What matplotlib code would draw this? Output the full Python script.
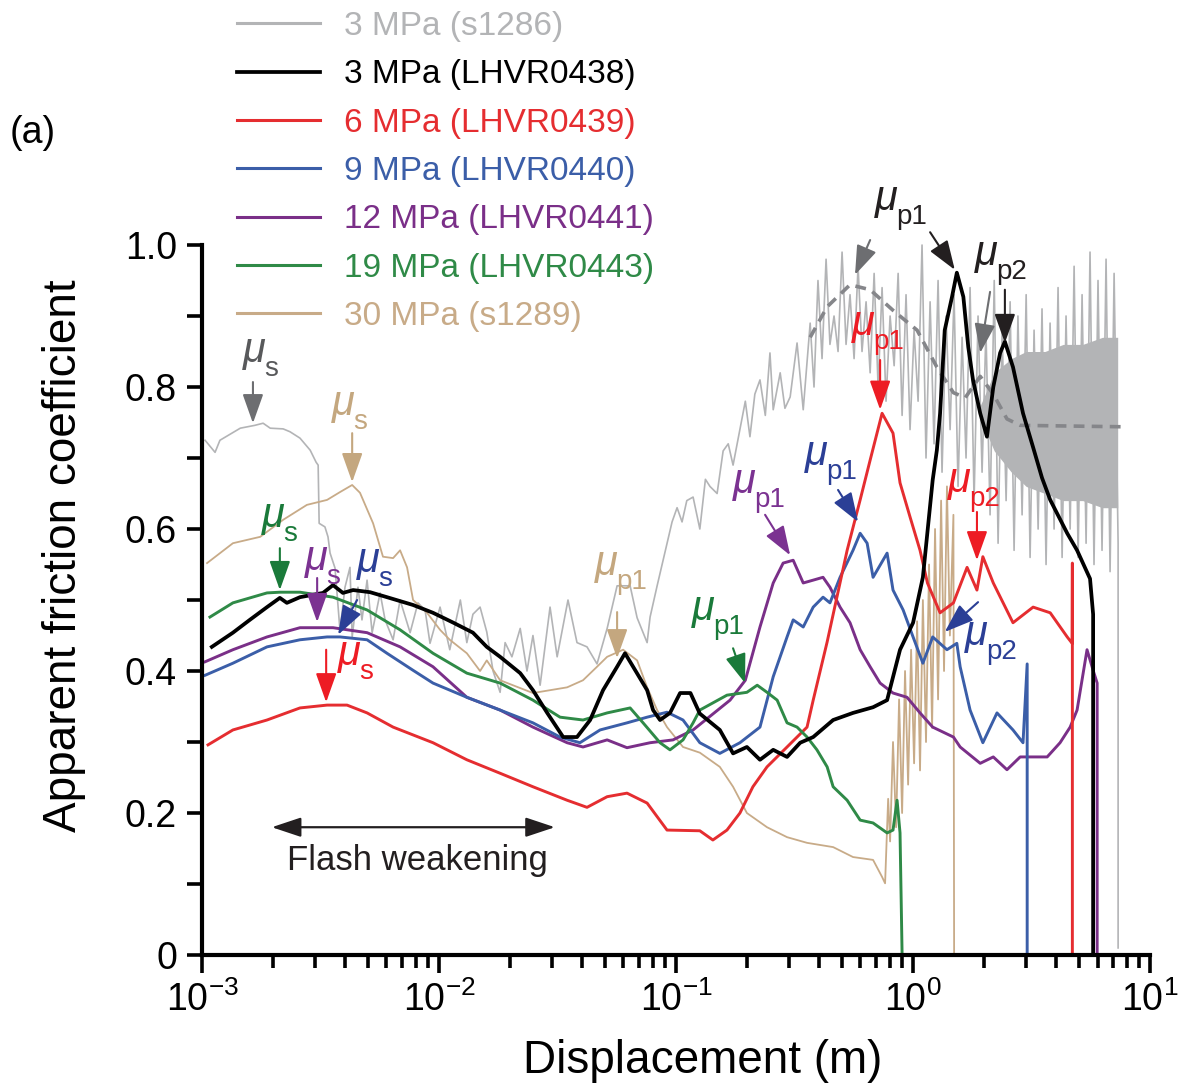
import matplotlib
matplotlib.use("Agg")
import matplotlib.pyplot as plt
from matplotlib.ticker import FixedLocator, FixedFormatter, NullFormatter

plt.rcParams["font.family"] = ["Liberation Sans", "DejaVu Sans"]
plt.rcParams["mathtext.fontset"] = "custom"
plt.rcParams["mathtext.rm"] = "Liberation Sans"
plt.rcParams["mathtext.it"] = "Liberation Sans:italic"

# ---- data: displacement (m), apparent friction ----
s1286_x = [1.03e-3, 1.135e-3, 1.19e-3, 1.45e-3, 1.67e-3, 1.81e-3, 1.94e-3, 2.20e-3,
           2.35e-3, 2.59e-3, 2.86e-3, 3.03e-3, 3.09e-3, 3.12e-3, 3.30e-3, 3.40e-3,
           3.47e-3, 3.64e-3, 3.82e-3, 4.01e-3, 4.21e-3, 4.30e-3, 4.55e-3, 4.73e-3,
           4.97e-3, 5.22e-3, 5.64e-3, 5.92e-3, 6.40e-3, 6.85e-3, 7.55e-3, 8.15e-3,
           8.73e-3, 9.16e-3, 0.0101, 0.0111, 0.0123, 0.0131, 0.0139, 0.0149, 0.0159,
           0.0169, 0.0181, 0.0190, 0.0203, 0.0220, 0.0235, 0.0249, 0.0267, 0.0294,
           0.0315, 0.0350, 0.0382, 0.0421, 0.0464, 0.0512, 0.0564, 0.0640, 0.0685,
           0.0755, 0.0777, 0.0832, 0.0873, 0.0916, 0.0962, 0.101, 0.106, 0.111,
           0.118, 0.126, 0.133, 0.139, 0.149, 0.158, 0.166, 0.174, 0.186, 0.196,
           0.205, 0.215, 0.226, 0.238, 0.249, 0.257, 0.275, 0.288, 0.303, 0.324,
           0.344,
           0.368, 0.382, 0.397, 0.413, 0.4295, 0.446, 0.464, 0.4825, 0.5017, 0.5215,
           0.542, 0.5638, 0.586, 0.609, 0.6335, 0.659, 0.685, 0.712, 0.740, 0.769,
           0.800, 0.832, 0.865, 0.899, 0.934, 0.971, 1.010, 1.05, 1.091, 1.134,
           1.18, 1.226, 1.275, 1.325, 1.378, 1.433, 1.489, 1.548, 1.61, 1.673,
           1.74, 1.809, 1.88, 1.955, 2.03, 2.113, 2.20, 2.284, 2.375, 2.469,
           2.567, 2.668, 2.77, 2.884, 3.00, 3.117, 3.24, 3.37, 3.50, 3.64,
           3.785, 3.935, 4.09, 4.254, 4.42, 4.60, 4.78, 4.97, 5.165, 5.37,
           5.58, 5.80, 6.03, 6.27, 6.52, 6.78, 7.05, 7.33, 7.33]
s1286_y = [0.725, 0.708, 0.725, 0.742, 0.746, 0.749, 0.742, 0.741,
           0.737, 0.728, 0.711, 0.694, 0.690, 0.608, 0.603, 0.589,
           0.566, 0.545, 0.457, 0.518, 0.546, 0.448, 0.518, 0.472,
           0.528, 0.454, 0.510, 0.472, 0.444, 0.500, 0.454, 0.496,
           0.486, 0.439, 0.49, 0.43, 0.50, 0.44, 0.48, 0.49, 0.455,
           0.40, 0.37, 0.44, 0.42, 0.46, 0.40, 0.45, 0.38, 0.49,
           0.42, 0.50, 0.44, 0.434, 0.41, 0.46, 0.52, 0.52, 0.475,
           0.44, 0.476, 0.52, 0.55, 0.58, 0.61, 0.63, 0.61, 0.64,
           0.645, 0.60, 0.67, 0.66, 0.65, 0.71, 0.72, 0.69, 0.74, 0.78,
           0.73, 0.79, 0.81, 0.76, 0.848, 0.768, 0.82, 0.77, 0.786, 0.862,
           0.768,
           0.89, 0.80, 0.95, 0.84, 0.98, 0.86, 0.90, 0.85, 0.99, 0.86,
           0.93, 0.84, 0.97, 0.85, 0.92, 0.82, 0.96, 0.80, 0.94, 0.78,
           0.90, 0.83, 0.96, 0.76, 0.93, 0.74, 0.88, 0.78, 1.00, 0.70,
           0.92, 0.72, 0.95, 0.68, 0.90, 0.74, 0.93, 0.66, 0.87, 0.70,
           0.94, 0.64, 0.90, 0.68, 0.88, 0.62, 0.95, 0.58, 0.88, 0.64,
           0.92, 0.57, 0.90, 0.62, 0.93, 0.56, 0.88, 0.60, 0.91, 0.55,
           0.89, 0.60, 0.94, 0.56, 0.90, 0.60, 0.97, 0.56, 0.93, 0.58,
           0.99, 0.55, 0.95, 0.57, 0.98, 0.54, 0.96, 0.58, 0.01]

# dense core of the s1286 noise band
s1286_core_x = [1.9, 2.2, 2.6, 3.0, 3.6, 4.3, 5.2, 6.3, 7.3]
s1286_core_lo = [0.76, 0.71, 0.68, 0.66, 0.65, 0.64, 0.64, 0.63, 0.63]
s1286_core_hi = [0.77, 0.82, 0.84, 0.85, 0.85, 0.86, 0.86, 0.87, 0.87]

# smoothed trend of s1286 (dashed)
trend_x = [0.368, 0.434, 0.542, 0.659, 0.823, 1.04, 1.26, 1.48, 1.66, 1.92,
           2.18, 2.49, 2.83, 7.62]
trend_y = [0.870, 0.913, 0.944, 0.937, 0.908, 0.880, 0.828, 0.792, 0.785, 0.815,
           0.790, 0.755, 0.746, 0.744]

r0438_x = [1.10e-3, 1.35e-3, 1.59e-3, 1.88e-3, 2.13e-3, 2.28e-3, 2.59e-3, 3.24e-3,
           3.57e-3, 3.93e-3, 4.34e-3, 5.12e-3, 6.03e-3, 7.77e-3, 9.43e-3, 0.0115,
           0.0139, 0.0159, 0.0181, 0.0220, 0.0249, 0.0286, 0.0334, 0.0382, 0.0434,
           0.0492, 0.0564, 0.0609, 0.0659, 0.0755, 0.0800, 0.0856, 0.0943, 0.104,
           0.115, 0.126, 0.153, 0.174, 0.199, 0.226, 0.257, 0.294, 0.334, 0.379,
           0.460, 0.558, 0.678, 0.777, 0.881, 1.00, 1.10, 1.21, 1.26, 1.30,
           1.36, 1.46, 1.53, 1.63, 1.71, 1.79, 1.92, 2.05, 2.18, 2.33, 2.44,
           2.64, 2.91, 3.21, 3.50, 3.79, 4.47, 4.92, 5.58, 5.75, 5.75]
r0438_y = [0.434, 0.454, 0.472, 0.490, 0.503, 0.496, 0.504, 0.510,
           0.521, 0.510, 0.514, 0.511, 0.504, 0.493, 0.482, 0.468,
           0.454, 0.434, 0.420, 0.397, 0.373, 0.341, 0.307, 0.307, 0.331,
           0.373, 0.406, 0.425, 0.406, 0.373, 0.345, 0.331, 0.341, 0.369,
           0.369, 0.340, 0.317, 0.284, 0.293, 0.275, 0.289, 0.279, 0.299, 0.307,
           0.331, 0.341, 0.349, 0.359, 0.430, 0.468, 0.532, 0.669, 0.711, 0.763,
           0.880, 0.927, 0.961, 0.927, 0.856, 0.810, 0.763, 0.730, 0.800, 0.848, 0.864,
           0.828, 0.763, 0.715, 0.672, 0.641, 0.594, 0.570, 0.530, 0.480, 0.0]

r0439_x = [1.06e-3, 1.35e-3, 1.88e-3, 2.59e-3, 3.37e-3, 4.09e-3, 4.97e-3, 6.40e-3,
           9.43e-3, 0.0131, 0.0181, 0.0249, 0.0347, 0.0421, 0.0512, 0.0621, 0.0755,
           0.0916, 0.126, 0.143, 0.164, 0.186, 0.211, 0.242, 0.294, 0.357, 0.379,
           0.434, 0.527, 0.598, 0.659, 0.740, 0.823, 0.881, 0.971, 1.07, 1.15,
           1.30, 1.48, 1.69, 1.86, 1.97, 2.18, 2.64, 3.21, 3.79, 4.47, 4.69,
           4.70, 4.70]
r0439_y = [0.296, 0.317, 0.331, 0.348, 0.352, 0.352, 0.341, 0.321,
           0.299, 0.275, 0.256, 0.237, 0.218, 0.208, 0.223, 0.228, 0.214,
           0.176, 0.175, 0.162, 0.176, 0.200, 0.237, 0.265, 0.293, 0.321, 0.359,
           0.441, 0.570, 0.641, 0.697, 0.763, 0.735, 0.665, 0.617, 0.570, 0.524,
           0.482, 0.496, 0.546, 0.514, 0.561, 0.524, 0.468, 0.490, 0.482, 0.448, 0.439,
           0.552, 0.0]

r0440_x = [1.03e-3, 1.35e-3, 1.88e-3, 2.59e-3, 3.37e-3, 3.82e-3, 4.97e-3, 6.03e-3,
           7.77e-3, 9.43e-3, 0.0131, 0.0181, 0.0249, 0.0324, 0.0393, 0.0478, 0.0621,
           0.0755, 0.0916, 0.107, 0.126, 0.153, 0.186, 0.226, 0.257, 0.294, 0.312,
           0.344, 0.379, 0.417, 0.446, 0.492, 0.558, 0.598, 0.640, 0.678, 0.777,
           0.823, 0.908, 1.00, 1.10, 1.21, 1.39, 1.53, 1.58, 1.74, 1.97, 2.26,
           2.64, 2.91, 3.03, 3.03]
r0440_y = [0.394, 0.411, 0.434, 0.444, 0.448, 0.448, 0.444, 0.425,
           0.401, 0.383, 0.363, 0.345, 0.327, 0.307, 0.299, 0.317, 0.327,
           0.335, 0.342, 0.331, 0.299, 0.284, 0.299, 0.321, 0.392, 0.448, 0.472,
           0.462, 0.490, 0.504, 0.496, 0.532, 0.570, 0.594, 0.580, 0.532, 0.566,
           0.514, 0.486, 0.448, 0.411, 0.448, 0.430, 0.439, 0.406, 0.345, 0.299, 0.341,
           0.317, 0.299, 0.410, 0.0]

r0441_x = [1.03e-3, 1.35e-3, 1.88e-3, 2.59e-3, 3.57e-3, 4.97e-3, 6.85e-3, 9.43e-3,
           0.0131, 0.0181, 0.0249, 0.0347, 0.0405, 0.0512, 0.0621, 0.0777, 0.0971,
           0.118, 0.169, 0.196, 0.226, 0.257, 0.283, 0.312, 0.344, 0.379, 0.417,
           0.446, 0.492, 0.542, 0.598, 0.659, 0.726, 0.823, 0.943, 1.07, 1.21,
           1.48, 1.58, 1.92, 2.18, 2.49, 2.83, 3.68, 4.17, 4.60, 4.92, 5.42,
           5.75, 5.98, 5.98]
r0441_y = [0.413, 0.430, 0.448, 0.461, 0.461, 0.454, 0.434, 0.406,
           0.363, 0.345, 0.321, 0.299, 0.293, 0.303, 0.292, 0.299, 0.303,
           0.317, 0.359, 0.387, 0.462, 0.524, 0.552, 0.556, 0.524, 0.528, 0.532,
           0.518, 0.490, 0.468, 0.430, 0.406, 0.383, 0.369, 0.363, 0.341, 0.321,
           0.307, 0.293, 0.270, 0.279, 0.261, 0.279, 0.279, 0.299, 0.321, 0.345, 0.430,
           0.401, 0.383, 0.0]

r0443_x = [1.08e-3, 1.35e-3, 1.88e-3, 2.13e-3, 2.59e-3, 3.57e-3, 4.97e-3, 6.85e-3,
           9.43e-3, 0.0131, 0.0181, 0.0249, 0.0324, 0.0405, 0.0512, 0.0640, 0.0726,
           0.0856, 0.0943, 0.107, 0.118, 0.126, 0.164, 0.199, 0.220, 0.242, 0.267,
           0.294, 0.324, 0.357, 0.393, 0.434, 0.460, 0.527, 0.598, 0.678, 0.777,
           0.823, 0.856, 0.881, 0.899]
r0443_y = [0.476, 0.496, 0.510, 0.511, 0.511, 0.504, 0.486, 0.458,
           0.425, 0.397, 0.383, 0.359, 0.335, 0.331, 0.341, 0.348, 0.327,
           0.299, 0.289, 0.303, 0.327, 0.345, 0.366, 0.370, 0.380, 0.370, 0.359,
           0.327, 0.321, 0.307, 0.289, 0.265, 0.237, 0.218, 0.190, 0.186, 0.172,
           0.176, 0.218, 0.172, 0.0]

s1289_x = [1.05e-3, 1.35e-3, 1.76e-3, 2.20e-3, 2.77e-3, 3.37e-3, 3.82e-3, 4.30e-3,
           4.64e-3, 5.27e-3, 5.80e-3, 6.40e-3, 6.85e-3, 7.33e-3, 7.77e-3, 8.90e-3,
           0.0101, 0.0111, 0.0131, 0.0149, 0.0159, 0.0181, 0.0249, 0.0294, 0.0347,
           0.0405, 0.0464, 0.0512, 0.0598, 0.0685, 0.0755, 0.0832, 0.0916, 0.107,
           0.126, 0.153, 0.174, 0.199, 0.242, 0.294, 0.357, 0.460, 0.558, 0.678,
           0.740, 0.762, 0.785, 0.800, 0.823, 0.848, 0.873, 0.899, 0.925, 0.953,
           0.981, 1.010, 1.04, 1.07, 1.10, 1.134, 1.168, 1.203, 1.238, 1.275,
           1.313, 1.351, 1.39, 1.43, 1.48, 1.49]
s1289_y = [0.552, 0.580, 0.589, 0.613, 0.634, 0.641, 0.652, 0.662,
           0.651, 0.608, 0.561, 0.559, 0.570, 0.546, 0.500, 0.482,
           0.458, 0.444, 0.425, 0.400, 0.415, 0.387, 0.369, 0.373, 0.377,
           0.387, 0.406, 0.420, 0.430, 0.415, 0.377, 0.345, 0.321, 0.293,
           0.285, 0.265, 0.237, 0.200, 0.180, 0.166, 0.158, 0.152, 0.138, 0.134,
           0.110, 0.101, 0.22, 0.16, 0.30, 0.18, 0.36, 0.20, 0.40, 0.24,
           0.43, 0.27, 0.47, 0.26, 0.50, 0.30, 0.55, 0.32, 0.60, 0.36,
           0.64, 0.40, 0.66, 0.45, 0.62, 0.0]

xticks = [1e-3, 1e-2, 1e-1, 1e0, 1e1]
xticklabels = [r"$10^{-3}$", r"$10^{-2}$", r"$10^{-1}$", r"$10^{0}$", r"$10^{1}$"]
yticks = [0, 0.2, 0.4, 0.6, 0.8, 1.0]
yticklabels = ["0", "0.2", "0.4", "0.6", "0.8", "1.0"]

GRAY = "#b3b4b6"
RED = "#e52d30"
BLUE = "#3b5ea8"
PURPLE = "#7a2f88"
GREEN = "#2f8a47"
TAN = "#c8ab88"

fig = plt.figure(figsize=(11.78, 10.86), dpi=100)
ax = fig.add_axes([0.1715, 0.1206, 0.8048, 0.6538])

ax.fill_between(s1286_core_x, s1286_core_lo, s1286_core_hi, color=GRAY, lw=0)
l_gray, = ax.plot(s1286_x, s1286_y, color=GRAY, lw=1.2, label="3 MPa (s1286)")
ax.plot(trend_x, trend_y, color="#85868a", lw=2.6, dashes=(3, 2))
l_tan, = ax.plot(s1289_x, s1289_y, color=TAN, lw=1.3, label="30 MPa (s1289)")
l_pur, = ax.plot(r0441_x, r0441_y, color=PURPLE, lw=2.1, label="12 MPa (LHVR0441)")
l_blue, = ax.plot(r0440_x, r0440_y, color=BLUE, lw=2.1, label="9 MPa (LHVR0440)")
l_red, = ax.plot(r0439_x, r0439_y, color=RED, lw=2.1, label="6 MPa (LHVR0439)")
l_grn, = ax.plot(r0443_x, r0443_y, color=GREEN, lw=2.1, label="19 MPa (LHVR0443)")
l_blk, = ax.plot(r0438_x, r0438_y, color="black", lw=2.7, label="3 MPa (LHVR0438)")
for ln in ax.lines:
    ln.set_clip_on(False)

ax.set_xscale("log")
ax.set_xlim(1e-3, 1e1)
ax.set_ylim(0, 1.0)
ax.xaxis.set_major_locator(FixedLocator(xticks))
ax.xaxis.set_major_formatter(FixedFormatter(xticklabels))
ax.xaxis.set_minor_locator(FixedLocator(
    [m * d for d in [1e-3, 1e-2, 1e-1, 1e0] for m in range(2, 10)]))
ax.xaxis.set_minor_formatter(NullFormatter())
ax.set_yticks(yticks)
ax.set_yticklabels(yticklabels)
ax.set_yticks([0.1, 0.3, 0.5, 0.7, 0.9], minor=True)

for side in ["top", "right"]:
    ax.spines[side].set_visible(False)
for side in ["left", "bottom"]:
    ax.spines[side].set_linewidth(3)
ax.tick_params(axis="y", which="both", direction="out", length=11, width=2.6,
               labelsize=27, pad=7)
ax.tick_params(axis="x", which="major", direction="out", length=13, width=2.6,
               labelsize=27, pad=6)
ax.tick_params(axis="x", which="minor", direction="out", length=9, width=2.6)

ax.set_xlabel("Displacement (m)", fontsize=33)
ax.set_ylabel("Apparent friction coefficient", fontsize=33)
ax.xaxis.set_label_coords(0.528, -0.118)
ax.yaxis.set_label_coords(-0.122, 0.563)

fig.text(10 / 1178, 1 - 143 / 1086, "(a)", fontsize=27, va="baseline")

# legend
leg = ax.legend(handles=[l_gray, l_blk, l_red, l_blue, l_pur, l_grn, l_tan],
                loc="upper left", bbox_to_anchor=(237 / 1178, 1 - 11 / 1086),
                bbox_transform=fig.transFigure, frameon=False, fontsize=24,
                handlelength=2.5, handletextpad=0.7, labelspacing=0.52,
                borderpad=0, borderaxespad=0, labelcolor="linecolor")
for h in leg.get_lines():
    h.set_linewidth(max(h.get_linewidth(), 2.2))

# flash weakening span
ax.annotate("", xy=(0.0308, 0.18), xytext=(0.00197, 0.18),
            arrowprops=dict(arrowstyle="<|-|>,head_length=0.9,head_width=0.3",
                            color="#231f20", lw=1.6, mutation_scale=20,
                            shrinkA=0, shrinkB=0))
ax.text(8.08e-3, 0.12, "Flash weakening", fontsize=25, color="#231f20",
        ha="center", va="baseline")


def mu_label(x, y, sub, color):
    ax.text(x, y, "\u03bc", color=color, fontsize=30, fontstyle="italic",
            ha="left", va="baseline")
    ax.annotate(sub, xy=(x, y), xytext=(21, -14), textcoords="offset pixels",
                color=color, fontsize=20, ha="left", va="baseline",
                annotation_clip=False)


def arrow(x0, y0, x1, y1, color):
    ax.annotate("", xy=(x1, y1), xytext=(x0, y0), annotation_clip=False,
                arrowprops=dict(arrowstyle="-|>,head_length=0.9,head_width=0.32",
                                color=color, lw=1.5, mutation_scale=20,
                                shrinkA=0, shrinkB=0))


# (subscript, colour, label x, label y)
labels = [
    ("s", "#58595b", 1.49e-3, 0.835),
    ("s", "#c4a77f", 3.54e-3, 0.761),
    ("s", "#1a7a3a", 1.79e-3, 0.603),
    ("s", "#7b3291", 2.72e-3, 0.542),
    ("s", "#2b3f96", 4.51e-3, 0.539),
    ("s", "#ed1c24", 3.75e-3, 0.408),
    ("p1", "#c4a77f", 0.0455, 0.535),
    ("p1", "#1a7a3a", 0.1168, 0.472),
    ("p1", "#7b3291", 0.174, 0.651),
    ("p1", "#2b3f96", 0.350, 0.690),
    ("p1", "#ed1c24", 0.553, 0.873),
    ("p1", "#231f20", 0.692, 1.049),
    ("p2", "#231f20", 1.827, 0.972),
    ("p2", "#ed1c24", 1.405, 0.652),
    ("p2", "#2b3f96", 1.657, 0.437),
]
# (colour, start x, start y, tip x, tip y)
arrows = [
    ("#6d6e71", 1.64e-3, 0.807, 1.64e-3, 0.749),
    ("#c4a77f", 4.30e-3, 0.735, 4.30e-3, 0.666),
    ("#1a7a3a", 2.13e-3, 0.573, 2.13e-3, 0.514),
    ("#7b3291", 3.06e-3, 0.531, 3.06e-3, 0.469),
    ("#2b3f96", 4.51e-3, 0.500, 3.75e-3, 0.451),
    ("#ed1c24", 3.34e-3, 0.430, 3.34e-3, 0.356),
    ("#c4a77f", 0.0564, 0.483, 0.0564, 0.418),
    ("#1a7a3a", 0.174, 0.432, 0.1955, 0.383),
    ("#7b3291", 0.2375, 0.620, 0.303, 0.563),
    ("#2b3f96", 0.4825, 0.655, 0.586, 0.610),
    ("#ed1c24", 0.726, 0.838, 0.726, 0.768),
    ("#6d6e71", 0.659, 1.007, 0.569, 0.958),
    ("#231f20", 1.18, 1.018, 1.50, 0.965),
    ("#231f20", 2.44, 0.937, 2.44, 0.862),
    ("#6d6e71", 2.113, 0.934, 1.92, 0.848),
    ("#ed1c24", 1.86, 0.624, 1.86, 0.556),
    ("#2b3f96", 1.88, 0.497, 1.36, 0.455),
]
for sub, col, lx, ly in labels:
    mu_label(lx, ly, sub, col)
for col, x0, y0, x1, y1 in arrows:
    arrow(x0, y0, x1, y1, col)

fig.savefig("out.png", dpi=100)
